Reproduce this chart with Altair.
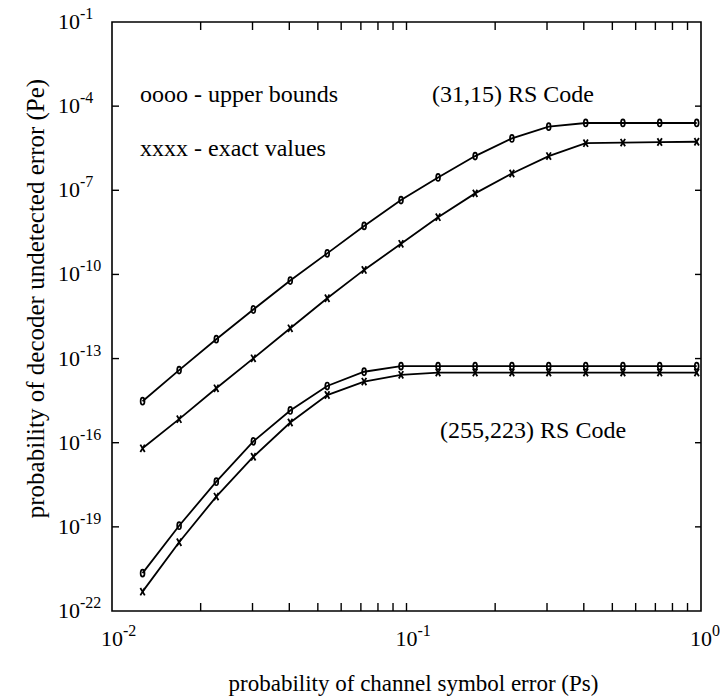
import altair as alt
import pandas as pd

# ---- data ----
ps = [0.0127, 0.0169, 0.0226, 0.0302, 0.0403, 0.0538, 0.0718, 0.0958,
      0.128, 0.171, 0.228, 0.304, 0.406, 0.543, 0.724, 0.967]

rs31_upper = [3.02e-15, 3.89e-14, 4.90e-13, 5.62e-12, 6.03e-11, 5.62e-10, 5.37e-9, 4.47e-8,
              2.88e-7, 1.66e-6, 7.08e-6, 1.86e-5, 2.51e-5, 2.51e-5, 2.51e-5, 2.51e-5]
rs31_exact = [6.31e-17, 6.92e-16, 8.71e-15, 1.02e-13, 1.20e-12, 1.41e-11, 1.45e-10, 1.23e-9,
              1.10e-8, 7.76e-8, 3.98e-7, 1.66e-6, 4.79e-6, 5.01e-6, 5.25e-6, 5.37e-6]
rs255_upper = [2.24e-21, 1.10e-19, 4.07e-18, 1.12e-16, 1.41e-15, 1.05e-14, 3.39e-14, 5.37e-14,
               5.37e-14, 5.37e-14, 5.37e-14, 5.37e-14, 5.37e-14, 5.37e-14, 5.37e-14, 5.37e-14]
rs255_exact = [4.90e-22, 2.82e-20, 1.20e-18, 3.16e-17, 5.25e-16, 5.01e-15, 1.51e-14, 2.63e-14,
               3.16e-14, 3.16e-14, 3.16e-14, 3.16e-14, 3.16e-14, 3.16e-14, 3.16e-14, 3.16e-14]

x_label_values = [0.01, 0.1, 1.0]
x_label_exps = ["-2", "-1", "0"]
x_tick_values = [0.02, 0.03, 0.04, 0.05, 0.06, 0.07, 0.08, 0.09, 0.1,
                 0.2, 0.3, 0.4, 0.5, 0.6, 0.7, 0.8, 0.9]
y_label_values = [1e-1, 1e-4, 1e-7, 1e-10, 1e-13, 1e-16, 1e-19, 1e-22]
y_label_exps = ["-1", "-4", "-7", "-10", "-13", "-16", "-19", "-22"]
y_tick_values = [1e-4, 1e-7, 1e-10, 1e-13, 1e-16, 1e-19]

notes_text = ["oooo - upper bounds", "xxxx - exact values", "(31,15) RS Code", "(255,223) RS Code"]
notes_x = [0.01245, 0.01245, 0.122, 0.13]
notes_y = [2.6e-4, 3.0e-6, 2.6e-4, 2.6e-16]

# ---- tables ----
series = [("rs31_upper", "o", rs31_upper), ("rs31_exact", "x", rs31_exact),
          ("rs255_upper", "o", rs255_upper), ("rs255_exact", "x", rs255_exact)]
rows = []
for name, mk, vals in series:
    for p, v in zip(ps, vals):
        rows.append({"series": name, "marker": mk, "ps": p, "pe": v})
df = pd.DataFrame(rows)
xt = pd.DataFrame({"ps": x_tick_values})
yt = pd.DataFrame({"pe": y_tick_values})
xlab = pd.DataFrame({"ps": x_label_values, "base": ["10"] * len(x_label_values), "exp": x_label_exps})
ylab = pd.DataFrame({"pe": y_label_values, "base": ["10"] * len(y_label_values), "exp": y_label_exps})
notes = pd.DataFrame({"text": notes_text, "ps": notes_x, "pe": notes_y})

W, H = 589, 589
FONT = "Liberation Serif"
xscale = alt.Scale(type="log", domain=[0.01, 1], nice=False)
yscale = alt.Scale(type="log", domain=[1e-22, 1e-1], nice=False)

x_axis = alt.Axis(labels=False, ticks=False, domain=False, grid=False,
                  title="probability of channel symbol error (Ps)", titleFont=FONT, titleFontSize=23,
                  titleFontWeight="normal", titleColor="black", titleX=301, titleY=72,
                  titleBaseline="middle")
y_axis = alt.Axis(labels=False, ticks=False, domain=False, grid=False,
                  title="probability of decoder undetected error (Pe)", titleFont=FONT, titleFontSize=25,
                  titleFontWeight="normal", titleColor="black", titleX=-77, titleY=276,
                  titleAngle=270, titleAlign="center", titleBaseline="middle")

X = alt.X("ps:Q", scale=xscale, axis=x_axis)
Y = alt.Y("pe:Q", scale=yscale, axis=y_axis)

lines = alt.Chart(df).mark_line(color="black", strokeWidth=1.8).encode(
    x=X, y=Y, detail="series:N",
)

ellipse = "M0,-1 A0.55,1 0 1,1 0,1 A0.55,1 0 1,1 0,-1 Z"
xpath = "M-0.6,-1 L0.6,1 M-0.6,1 L0.6,-1"

o_pts = alt.Chart(df).transform_filter(alt.datum.marker == "o").mark_point(
    shape=ellipse, filled=False, stroke="black", strokeWidth=1.7, size=50, opacity=1
).encode(x=X, y=Y)

x_pts = alt.Chart(df).transform_filter(alt.datum.marker == "x").mark_point(
    shape=xpath, filled=False, stroke="black", strokeWidth=1.8, size=55, opacity=1
).encode(x=X, y=Y)

tick_style = dict(color="black", strokeWidth=1.4)
xt_bottom = alt.Chart(xt).mark_rule(**tick_style).encode(
    x=X, y=alt.value(H), y2=alt.value(H - 8))
xt_top = alt.Chart(xt).mark_rule(**tick_style).encode(
    x=X, y=alt.value(0), y2=alt.value(8))
yt_left = alt.Chart(yt).mark_rule(**tick_style).encode(
    y=Y, x=alt.value(0), x2=alt.value(7))
yt_right = alt.Chart(yt).mark_rule(**tick_style).encode(
    y=Y, x=alt.value(W), x2=alt.value(W - 6))

# tick labels: "10" with a raised exponent
x_base = alt.Chart(xlab).mark_text(font=FONT, fontSize=22, align="center", baseline="middle",
                                   color="black").encode(x=X, y=alt.value(H + 28), text="base:N")
x_exp = alt.Chart(xlab).mark_text(font=FONT, fontSize=16, align="left", baseline="middle",
                                  color="black", dx=11).encode(x=X, y=alt.value(H + 20), text="exp:N")
y_base = alt.Chart(ylab).mark_text(font=FONT, fontSize=22, align="right", baseline="middle",
                                   color="black").encode(y=Y, x=alt.value(-32), text="base:N")
y_exp = alt.Chart(ylab).mark_text(font=FONT, fontSize=16, align="left", baseline="middle",
                                  color="black", dy=-8).encode(y=Y, x=alt.value(-32), text="exp:N")

text = alt.Chart(notes).mark_text(font=FONT, fontSize=24, align="left", baseline="middle",
                                  color="black").encode(x=X, y=Y, text="text:N")

chart = alt.layer(lines, o_pts, x_pts, xt_bottom, xt_top, yt_left, yt_right,
                  x_base, x_exp, y_base, y_exp, text).properties(
    width=W, height=H,
    autosize=alt.AutoSizeParams(type="none"),
    padding={"left": 112, "top": 22, "right": 19, "bottom": 88},
    background="white",
).configure_view(stroke="black", strokeWidth=1.6)

chart.save("out.html", embed_options={"renderer": "svg", "actions": False})
